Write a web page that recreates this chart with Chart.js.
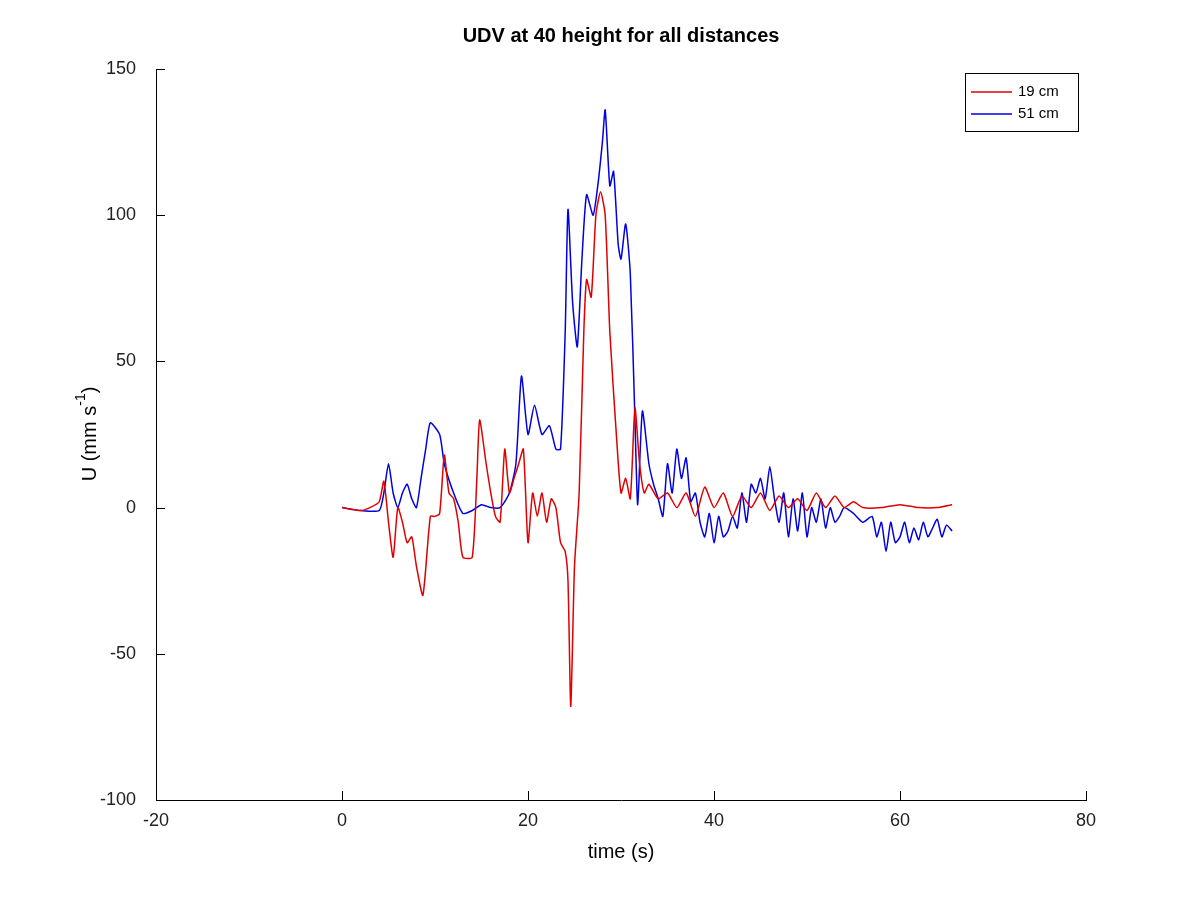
<!DOCTYPE html>
<html>
<head>
<script src="https://cdn.jsdelivr.net/npm/chart.js@4"></script>
<style>body{margin:0;background:#fff}#wrap{width:1200px;height:900px}</style>
</head>
<body>
<div id="wrap"><canvas id="udvChart"></canvas></div>
<script>
const redT = [0,2,3,4,4.5,5,5.5,6,6.5,7,7.5,8,8.7,9.5,10,10.5,11,11.5,12,12.5,13,14,14.5,14.8,15.5,16,16.5,17,17.5,18,18.5,19,19.5,20,20.5,21,21.5,22,22.5,23,23.5,24,24.3,24.6,25,25.5,26,26.3,26.8,27.3,27.8,28.3,28.8,29.5,30,30.5,31,31.5,32,32.5,33,34,35,36,37,38,39,40,41,42,43,44,45,46,47,48,49,50,51,52,53,54,55,56,58,60,62,64,65.6];
const redU = [0,-1,0,2,9,-5,-17,0,-5,-12,-10,-20,-30,-3,-3,-2,18,5,3,-5,-17,-17,10,30,15,5,-3,-5,20,5,10,15,20,-12,5,-3,5,-5,3,0,-12,-15,-25,-68,-20,5,60,78,72,100,108,100,60,25,5,10,3,34,15,5,8,3,5,0,5,-3,7,0,5,-3,4,0,5,-1,4,0,3,-1,5,0,4,0,2,0,0,1,0,0,1];
const blueT = [0,2,4,4.5,5,5.5,6,6.5,7,7.5,8,8.5,9,9.5,10.5,11,12,13,14,15,16,17,18,18.7,19.3,20,20.7,21.5,22.3,23,23.5,24,24.3,24.8,25.3,25.8,26.3,27,27.5,28,28.3,28.8,29.2,29.7,30,30.5,31,31.5,31.8,32.3,33,33.5,34,34.5,35,35.5,36,36.5,37,37.5,38,38.5,39,39.5,40,40.5,41,41.5,42,42.5,43,43.5,44,44.5,45,45.5,46,46.5,47,47.5,48,48.5,49,49.5,50,50.5,51,51.5,52,52.5,53,53.5,54,55,56,57,57.5,58,58.5,59,59.5,60,60.5,61,61.5,62,62.5,63,63.5,64,64.5,65,65.6];
const blueU = [0,-1,-1,5,15,5,0,5,8,3,0,10,20,29,25,15,5,-2,-1,1,0,0,5,15,45,25,35,25,28,20,20,60,102,70,55,85,107,100,110,125,136,110,115,90,85,97,80,30,1,33,15,8,3,-3,15,5,20,10,17,2,5,-5,-10,-2,-12,-3,-10,-8,-3,-7,5,-5,8,5,10,3,14,3,-5,5,-10,3,-8,5,-10,0,-5,3,-7,0,-5,-3,0,-2,-5,-3,-10,-5,-15,-5,-12,-10,-5,-12,-7,-11,-5,-10,-7,-4,-10,-6,-8];
const seriesNames = ['19 cm', '51 cm'];
const xTicks = [-20,0,20,40,60,80];
const yTicks = [-100,-50,0,50,100,150];

const toPts = (t, u) => t.map((v, i) => ({x: v, y: u[i]}));

const decor = {
  id: 'decor',
  afterDraw(chart) {
    const c = chart.ctx, a = chart.chartArea;
    const sx = chart.scales.x, sy = chart.scales.y;
    c.save();
    c.strokeStyle = '#000'; c.lineWidth = 1;
    c.beginPath();
    xTicks.forEach(v => { const p = Math.round(sx.getPixelForValue(v)) + 0.5; c.moveTo(p, a.bottom); c.lineTo(p, a.bottom - 9); });
    yTicks.forEach(v => { const p = Math.round(sy.getPixelForValue(v)) + 0.5; c.moveTo(a.left, p); c.lineTo(a.left + 9, p); });
    c.stroke();
    c.fillStyle = '#000';
    c.font = 'bold 20px "Liberation Sans", Arial';
    c.textAlign = 'center'; c.textBaseline = 'middle';
    c.fillText('UDV at 40 height for all distances', (a.left + a.right) / 2, 36);
    c.font = '20px "Liberation Sans", Arial';
    c.fillText('time (s)', (a.left + a.right) / 2, 852);
    c.translate(90, 434); c.rotate(-Math.PI / 2);
    c.textAlign = 'left';
    const s1 = 'U (mm s', w1 = c.measureText(s1).width;
    c.font = '14px "Liberation Sans", Arial';
    const w2 = c.measureText('-1').width;
    c.font = '20px "Liberation Sans", Arial';
    const w3 = c.measureText(')').width;
    let x0 = -(w1 + w2 + w3) / 2;
    c.fillText(s1, x0, 0);
    c.font = '14px "Liberation Sans", Arial';
    c.fillText('-1', x0 + w1, -9);
    c.font = '20px "Liberation Sans", Arial';
    c.fillText(')', x0 + w1 + w2, 0);
    c.setTransform(1, 0, 0, 1, 0, 0);
    c.scale(chart.currentDevicePixelRatio, chart.currentDevicePixelRatio);
    // legend
    c.fillStyle = '#fff';
    c.fillRect(965, 73, 114, 58);
    c.strokeStyle = '#000';
    c.strokeRect(965.5, 73.5, 113, 58);
    const cols = ['#e00000', '#0000e0'];
    c.font = '15px "Liberation Sans", Arial';
    c.textBaseline = 'middle';
    seriesNames.forEach((n, i) => {
      const y = 92 + i * 22;
      c.strokeStyle = cols[i]; c.lineWidth = 1.5;
      c.beginPath(); c.moveTo(971, y); c.lineTo(1012, y); c.stroke();
      c.fillStyle = '#000'; c.fillText(n, 1018, y);
    });
    c.restore();
  }
};

new Chart(document.getElementById('udvChart'), {
  type: 'line',
  data: {
    datasets: [
      {label: seriesNames[0], data: toPts(redT, redU), borderColor: '#e00000', borderWidth: 1.5, pointRadius: 0, tension: 0.2},
      {label: seriesNames[1], data: toPts(blueT, blueU), borderColor: '#0000e0', borderWidth: 1.5, pointRadius: 0, tension: 0.2}
    ]
  },
  options: {
    responsive: true,
    maintainAspectRatio: false,
    animation: false,
    layout: {padding: {top: 69, right: 114, left: 0, bottom: 0}},
    plugins: {legend: {display: false}, title: {display: false}, tooltip: {enabled: false}},
    scales: {
      x: {
        type: 'linear', min: -20, max: 80,
        afterBuildTicks: s => { s.ticks = xTicks.map(v => ({value: v})); },
        afterFit: s => { s.height = 100; },
        grid: {display: false},
        border: {display: true, color: '#000', width: 1},
        ticks: {color: '#222', font: {size: 18, family: '"Liberation Sans", Arial'}, padding: 2}
      },
      y: {
        type: 'linear', min: -100, max: 150,
        afterBuildTicks: s => { s.ticks = yTicks.map(v => ({value: v})); },
        afterFit: s => { s.width = 156; },
        grid: {display: false},
        border: {display: true, color: '#000', width: 1},
        ticks: {color: '#222', font: {size: 18, family: '"Liberation Sans", Arial'}, padding: 12}
      }
    }
  },
  plugins: [decor]
});
</script>
</body>
</html>
